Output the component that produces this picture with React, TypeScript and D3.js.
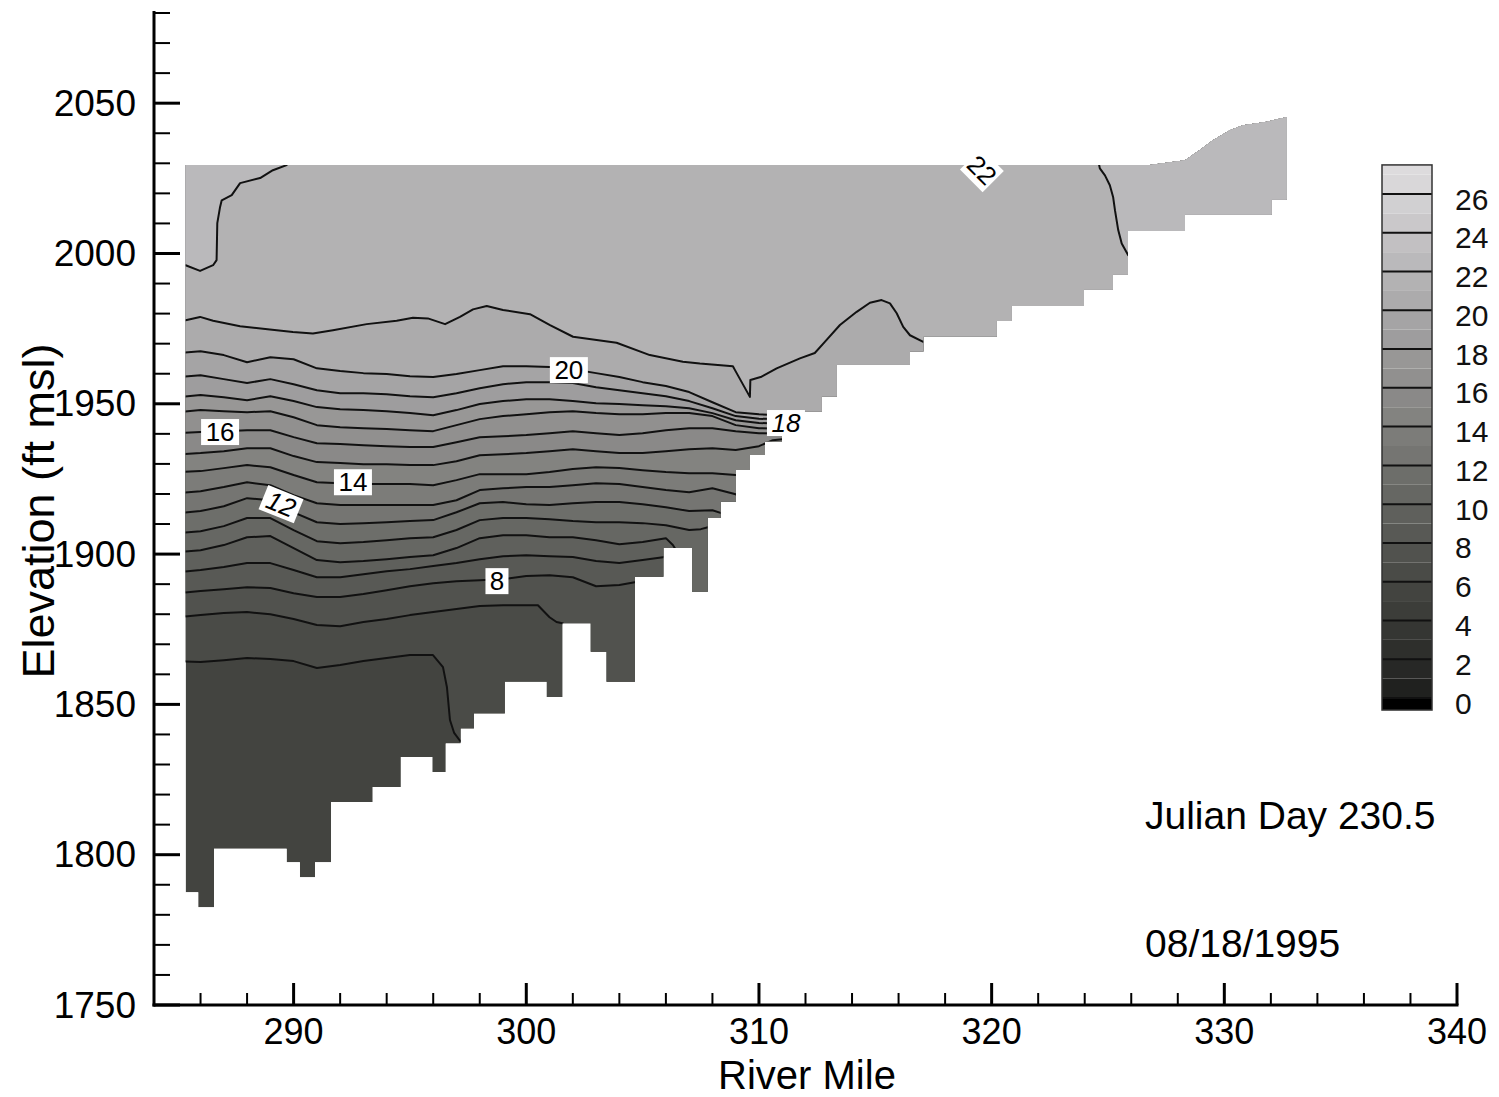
import React from 'react';
import * as d3 from 'd3';

type P = [number, number];

// ---------- axes ----------
const xDomain: P = [284, 340];
const yDomain: P = [1750, 2080];
const xMajorTicks = [290, 300, 310, 320, 330, 340];
const yMajorTicks = [1750, 1800, 1850, 1900, 1950, 2000, 2050];
const cbTicks = [0, 2, 4, 6, 8, 10, 12, 14, 16, 18, 20, 22, 24, 26];

// ---------- reservoir geometry (river mile, elevation ft msl) ----------
const surfMiles = [285.36, 326.8, 328.31, 328.95, 329.51, 330.24, 330.8, 331.83, 332.68];
const surfElev = [2029.4, 2029.4, 2031.0, 2034.4, 2037.7, 2041.0, 2042.7, 2043.8, 2045.4];
const bedMiles = [285.36, 285.9, 286.58, 289.7, 290.27, 290.92, 291.61, 293.4, 294.61, 295.96, 296.54, 297.18, 297.75, 299.08, 300.88, 301.55, 302.77, 303.45, 304.67, 305.89, 307.13, 307.79, 308.35, 309.01, 309.61, 310.26, 310.99, 312.69, 313.34, 316.49, 317.06, 320.21, 320.86, 323.97, 325.21, 325.86, 328.31, 332.03, 332.68];
const bedElev = [1787.5, 1782.5, 1802, 1797.5, 1792.5, 1797.5, 1817.5, 1822.5, 1832.5, 1827.5, 1837, 1842, 1847, 1857.5, 1852.5, 1877, 1867.5, 1857.5, 1892.5, 1902, 1887.5, 1912, 1917.5, 1928, 1933, 1937.5, 1947.5, 1952.5, 1963, 1967.5, 1972.5, 1977.5, 1982.5, 1988, 1993, 2007.5, 2013, 2018];

// ---------- isotherms (deg C) ----------
const stations = [285, 286, 287, 288, 289, 290, 291, 292, 293, 294, 295, 296, 297, 298, 299, 300, 301, 302, 303, 304, 305, 306, 307, 308, 309, 310, 311];
const iso20El = [1966.8, 1967.5, 1966.2, 1963.8, 1965.5, 1964.8, 1961.8, 1960.9, 1960.2, 1959.9, 1959.2, 1958.9, 1959.9, 1961.2, 1962.5, 1962.5, 1962.2, 1961.5, 1960.2, 1958.9, 1957.2, 1955.9, 1953.9, 1950.5, 1947.2, 1946.5, 1946.2];
const iso19El = [1958.9, 1959.5, 1958.2, 1956.9, 1958.2, 1956.5, 1954.5, 1953.5, 1953.5, 1953.2, 1952.5, 1952.2, 1953.5, 1955.2, 1956.5, 1957.2, 1957.2, 1956.9, 1955.5, 1954.5, 1953.5, 1952.5, 1950.9, 1948.5, 1945.9, 1945.0, 1944.9];
const iso18El = [1952.2, 1952.9, 1952.2, 1951.2, 1952.5, 1950.9, 1948.9, 1948.2, 1947.9, 1947.5, 1946.9, 1946.2, 1947.9, 1949.9, 1950.9, 1951.5, 1951.5, 1950.9, 1950.2, 1949.9, 1949.5, 1949.2, 1948.5, 1946.9, 1944.5, 1943.6, 1943.4];
const iso17El = [1947.2, 1947.9, 1947.5, 1947.2, 1947.5, 1945.5, 1942.9, 1942.2, 1941.9, 1941.6, 1941.2, 1940.9, 1942.9, 1944.9, 1945.9, 1946.5, 1947.2, 1947.5, 1946.9, 1946.5, 1946.5, 1946.9, 1946.9, 1945.9, 1942.9, 1941.9, 1941.7];
const iso16El = [1940.2, 1940.6, 1940.9, 1941.2, 1941.2, 1938.9, 1936.9, 1936.6, 1936.2, 1935.9, 1935.6, 1935.6, 1937.2, 1938.9, 1939.2, 1939.6, 1940.2, 1940.9, 1940.2, 1939.6, 1940.2, 1941.2, 1941.9, 1941.9, 1940.9, 1940.2, 1940.1];

const iso15Mi = [285, 286, 287, 288, 289, 290, 291, 292, 293, 294, 295, 296, 297, 298, 299, 300, 301, 302, 303, 304, 305, 306, 307, 308, 309, 310, 310.6, 311];
const iso15El = [1933.2, 1933.6, 1934.2, 1935.2, 1935.2, 1932.6, 1930.6, 1930.3, 1929.9, 1929.9, 1929.6, 1929.6, 1930.9, 1932.9, 1933.2, 1933.6, 1934.2, 1934.9, 1934.2, 1933.6, 1933.6, 1934.2, 1934.9, 1935.2, 1934.6, 1935.9, 1937.9, 1938.2];
const iso14Mi = [285, 286, 287, 288, 289, 290, 291, 292, 293, 294, 295, 296, 297, 298, 299, 300, 301, 302, 303, 304, 305, 306, 307, 308, 309, 309.05];
const iso14El = [1927.3, 1927.6, 1928.6, 1929.6, 1928.9, 1926.3, 1923.9, 1923.6, 1923.3, 1923.3, 1923.3, 1922.9, 1924.6, 1926.6, 1926.6, 1926.6, 1927.3, 1928.3, 1928.9, 1928.6, 1927.9, 1927.3, 1926.9, 1926.9, 1926.3, 1926.3];
const iso13Mi = [285, 286, 287, 288, 289, 290, 291, 292, 293, 294, 295, 296, 297, 298, 299, 300, 301, 302, 303, 304, 305, 306, 307, 308, 309, 309.05];
const iso13El = [1920.3, 1920.9, 1922.3, 1923.9, 1922.9, 1919.6, 1916.9, 1916.3, 1916.3, 1916.3, 1916.3, 1916.3, 1917.9, 1921.3, 1921.9, 1922.3, 1922.3, 1922.9, 1923.6, 1923.3, 1922.3, 1921.3, 1920.6, 1921.9, 1919.9, 1919.6];
const iso12Mi = [285, 286, 287, 288, 289, 290, 291, 292, 293, 294, 295, 296, 297, 298, 299, 300, 301, 302, 303, 304, 305, 306, 307, 308, 308.4];
const iso12El = [1913.6, 1914.3, 1915.9, 1918.6, 1917.9, 1913.9, 1910.6, 1910.0, 1910.3, 1910.6, 1911.0, 1911.3, 1913.9, 1916.9, 1917.3, 1916.6, 1916.3, 1916.9, 1917.3, 1917.3, 1916.6, 1915.6, 1914.3, 1914.6, 1913.6];
const iso11Mi = [285, 286, 287, 288, 289, 290, 291, 292, 293, 294, 295, 296, 297, 298, 299, 300, 301, 302, 303, 304, 305, 306, 307, 307.5, 307.85];
const iso11El = [1907.0, 1907.6, 1909.3, 1912.0, 1912.0, 1908.0, 1904.3, 1903.6, 1904.0, 1904.6, 1905.3, 1905.6, 1908.0, 1911.3, 1912.0, 1912.0, 1911.6, 1911.0, 1910.6, 1910.6, 1910.3, 1909.6, 1908.0, 1908.3, 1909.0];
const iso10Mi = [285, 286, 287, 288, 289, 290, 291, 292, 293, 294, 295, 296, 297, 298, 299, 300, 301, 302, 303, 304, 305, 306, 306.3, 306.4];
const iso10El = [1900.6, 1901.3, 1903.0, 1905.6, 1906.0, 1902.0, 1898.0, 1897.3, 1897.7, 1898.3, 1899.0, 1899.6, 1902.0, 1905.3, 1906.3, 1906.3, 1905.6, 1905.6, 1904.6, 1903.3, 1904.0, 1905.3, 1903.0, 1901.8];
const iso9Mi = [285, 286, 287, 288, 289, 290, 291, 292, 293, 294, 295, 296, 297, 298, 299, 300, 301, 302, 303, 304, 305, 305.95];
const iso9El = [1894.0, 1894.7, 1895.7, 1897.0, 1897.0, 1894.7, 1892.3, 1892.3, 1893.3, 1894.3, 1895.0, 1896.0, 1897.0, 1898.3, 1899.3, 1899.6, 1899.3, 1899.0, 1897.7, 1897.0, 1898.0, 1899.0];
const iso8Mi = [285, 286, 287, 288, 289, 290, 291, 292, 293, 294, 295, 296, 297, 298, 299, 300, 301, 302, 303, 304, 304.72];
const iso8El = [1887.0, 1887.7, 1888.3, 1889.0, 1888.7, 1887.0, 1885.7, 1885.7, 1886.7, 1888.0, 1889.3, 1890.3, 1891.0, 1891.3, 1891.7, 1892.7, 1893.0, 1892.3, 1889.3, 1889.7, 1890.7];
const iso7Mi = [285, 286, 287, 288, 289, 290, 291, 292, 293, 294, 295, 296, 297, 298, 299, 300, 300.5, 301, 301.3, 301.6];
const iso7El = [1879.0, 1879.7, 1880.4, 1880.7, 1880.0, 1878.4, 1876.4, 1876.0, 1877.4, 1878.4, 1879.7, 1880.7, 1881.7, 1882.7, 1883.0, 1883.0, 1883.0, 1879.0, 1877.4, 1876.9];
const iso6Mi = [285, 286, 287, 288, 289, 290, 291, 292, 293, 294, 295, 295.99, 296.42, 296.59, 296.72, 296.9, 297.2];
const iso6El = [1864.4, 1864.1, 1864.7, 1865.4, 1865.1, 1864.4, 1862.1, 1863.1, 1864.4, 1865.4, 1866.4, 1866.4, 1862.4, 1855.7, 1844.8, 1840.5, 1837.4];

const iso21Mi = [284.99, 285.36, 285.98, 286.54, 287.7, 288.98, 289.97, 290.83, 291.69, 293.14, 294.43, 295.13, 295.77, 296.51, 297.15, 297.71, 298.3, 299.0, 300.16, 301.02, 302.01, 303.88, 305.31, 306.73, 307.46, 308.88, 308.97, 309.61, 309.63, 310.11, 310.76, 311.76, 312.4, 312.83, 313.48, 314.2, 314.77, 315.27, 315.63, 315.92, 316.2, 316.49, 317.06, 317.1];
const iso21El = [1977.8, 1977.8, 1978.9, 1977.6, 1975.8, 1974.7, 1973.9, 1973.4, 1974.5, 1976.5, 1977.6, 1978.6, 1978.4, 1976.5, 1978.9, 1981.4, 1982.5, 1981.2, 1979.8, 1976.2, 1972.3, 1970.3, 1966.2, 1964.0, 1963.4, 1962.5, 1961.2, 1952.3, 1957.9, 1959.0, 1961.8, 1965.1, 1966.9, 1970.6, 1976.2, 1980.6, 1983.6, 1984.5, 1983.4, 1980.1, 1975.6, 1972.8, 1970.6, 1970.6];
const iso22aMi = [284.99, 285.36, 285.98, 286.54, 286.69, 286.72, 286.84, 286.91, 287.34, 287.7, 288.56, 289.11, 289.7, 289.75];
const iso22aEl = [1996.1, 1996.1, 1994.2, 1996.1, 1997.8, 2010.1, 2015.5, 2017.7, 2019.4, 2023.4, 2025.1, 2027.7, 2029.4, 2032.0];
const iso22bMi = [324.58, 324.65, 324.87, 325.08, 325.22, 325.3, 325.44, 325.59, 325.87, 325.9];
const iso22bEl = [2031.0, 2028.3, 2026.0, 2022.7, 2018.8, 2014.4, 2007.8, 2003.3, 1999.4, 1999.4];

// contour labels
const labelText = ['16', '14', '12', '20', '8', '18', '22'];
const labelMile = [286.84, 292.55, 289.46, 301.83, 298.74, 311.16, 319.58];
const labelElev = [1940.6, 1923.9, 1916.6, 1961.2, 1891.0, 1943.6, 2027.7];
const labelAngle = [0, 0, 22, 0, 0, 0, 45];

// ---------- style ----------
const colorStops = [0, 6, 12, 18, 22, 27];
const colorRange = ['#1d1e1c', '#464743', '#71726e', '#9b9a9a', '#b6b5b7', '#dddbdd'];
const FONT = 'Liberation Sans, Arial, Helvetica, sans-serif';

const zip = (a: number[], b: number[]): P[] => a.map((m, i) => [m, b[i]] as P);

export default function App() {
  const x = d3.scaleLinear().domain(xDomain).range([154, 1457]);
  const y = d3.scaleLinear().domain(yDomain).range([1005, 13]);
  const color = d3.scaleLinear<string>().domain(colorStops).range(colorRange).clamp(true);
  const cbY = d3.scaleLinear().domain([0, 26]).range([698, 194]);
  const line = d3.line<P>().x(d => x(d[0])).y(d => y(d[1]));

  // domain polygon
  const dom: P[] = zip(surfMiles, surfElev);
  for (let i = bedElev.length - 1; i >= 0; i--) {
    dom.push([bedMiles[i + 1], bedElev[i]]);
    dom.push([bedMiles[i], bedElev[i]]);
  }
  const domPath = line(dom) + 'Z';

  const isoLines: { level: number; pts: P[] }[] = [
    { level: 6, pts: zip(iso6Mi, iso6El) },
    { level: 7, pts: zip(iso7Mi, iso7El) },
    { level: 8, pts: zip(iso8Mi, iso8El) },
    { level: 9, pts: zip(iso9Mi, iso9El) },
    { level: 10, pts: zip(iso10Mi, iso10El) },
    { level: 11, pts: zip(iso11Mi, iso11El) },
    { level: 12, pts: zip(iso12Mi, iso12El) },
    { level: 13, pts: zip(iso13Mi, iso13El) },
    { level: 14, pts: zip(iso14Mi, iso14El) },
    { level: 15, pts: zip(iso15Mi, iso15El) },
    { level: 16, pts: zip(stations, iso16El) },
    { level: 17, pts: zip(stations, iso17El) },
    { level: 18, pts: zip(stations, iso18El) },
    { level: 19, pts: zip(stations, iso19El) },
    { level: 20, pts: zip(stations, iso20El) },
    { level: 21, pts: zip(iso21Mi, iso21El) },
  ];
  const iso22a = zip(iso22aMi, iso22aEl);
  const iso22b = zip(iso22bMi, iso22bEl);

  const regions: { level: number; poly: P[] }[] = isoLines.map(l => {
    const last = l.pts[l.pts.length - 1];
    return {
      level: l.level,
      poly: [[283, 2100], [283, l.pts[0][1]], ...l.pts, [last[0], 1700], [345, 1700], [345, 2100]] as P[],
    };
  });
  regions.push({ level: 22, poly: [[283, 2100], [283, iso22a[0][1]], ...iso22a, [iso22a[iso22a.length - 1][0], 2100]] as P[] });
  regions.push({ level: 22, poly: [[iso22b[0][0], 2100], ...iso22b, [345, iso22b[iso22b.length - 1][1]], [345, 2100]] as P[] });

  const allLines: P[][] = [...isoLines.map(l => l.pts), iso22a, iso22b];

  const yMinor = d3.range(1750, 2081, 10).filter(v => v % 50 !== 0);
  const xMinor = d3.range(286, 341, 2).filter(v => v % 10 !== 0);

  const cbBands = d3.range(0, 28);

  return (
    <svg width={1499} height={1097} style={{ position: 'absolute', left: 0, top: 0, background: '#fff' }}
      fontFamily={FONT}>
      <defs>
        <clipPath id="domClip"><path d={domPath} /></clipPath>
      </defs>
      <rect x={0} y={0} width={1499} height={1097} fill="#fff" />

      {/* filled bands */}
      <g clipPath="url(#domClip)">
        <path d={domPath} fill={color(5.5)} />
        {regions.map((r, i) => (
          <path key={i} d={line(r.poly) + 'Z'} fill={color(r.level + 0.5)} />
        ))}
        {allLines.map((pts, i) => (
          <path key={'l' + i} d={line(pts) || ''} fill="none" stroke="#111" strokeWidth={2} strokeLinejoin="round" />
        ))}
      </g>

      {/* contour labels */}
      {labelText.map((t, i) => {
        const cx = x(labelMile[i]);
        const cy = y(labelElev[i]);
        const w = t.length * 15 + 8;
        const isDiamond = labelAngle[i] === 45;
        return (
          <g key={'lab' + i} transform={`translate(${cx},${cy}) rotate(${labelAngle[i]})`}>
            <rect x={isDiamond ? -16 : -w / 2} y={isDiamond ? -15 : -13} width={isDiamond ? 32 : w} height={isDiamond ? 30 : 26} fill="#fff" />
            <text x={0} y={0} textAnchor="middle" dominantBaseline="central" fontSize={26}
              fontStyle={t === '18' || t === '12' ? 'italic' : 'normal'} fill="#000">{t}</text>
          </g>
        );
      })}

      {/* axes */}
      <line x1={154} y1={11} x2={154} y2={1006.5} stroke="#000" strokeWidth={3} />
      <line x1={152.5} y1={1005} x2={1458.5} y2={1005} stroke="#000" strokeWidth={3} />
      {yMajorTicks.map(v => (
        <g key={'ym' + v}>
          <line x1={154} x2={180} y1={y(v)} y2={y(v)} stroke="#000" strokeWidth={3} />
          <text x={136} y={y(v)} textAnchor="end" dominantBaseline="central" fontSize={37} fill="#000">{v}</text>
        </g>
      ))}
      {yMinor.map(v => (
        <line key={'yn' + v} x1={154} x2={170} y1={y(v)} y2={y(v)} stroke="#000" strokeWidth={2} />
      ))}
      {xMajorTicks.map(v => (
        <g key={'xm' + v}>
          <line x1={x(v)} x2={x(v)} y1={1005} y2={983} stroke="#000" strokeWidth={3} />
          <text x={x(v)} y={1031} textAnchor="middle" dominantBaseline="central" fontSize={36} fill="#000">{v}</text>
        </g>
      ))}
      {xMinor.map(v => (
        <line key={'xn' + v} x1={x(v)} x2={x(v)} y1={1005} y2={993} stroke="#000" strokeWidth={2} />
      ))}
      <text x={807} y={1089} textAnchor="middle" fontSize={40} fill="#000">River Mile</text>
      <text transform="translate(38,511) rotate(-90)" textAnchor="middle" dominantBaseline="central" fontSize={45} fill="#000">Elevation (ft msl)</text>

      {/* colorbar */}
      <g>
        {cbBands.map(k => {
          const top = Math.min(k + 1, 27.5);
          return <rect key={'cb' + k} x={1382} y={cbY(top)} width={50} height={cbY(k) - cbY(top)} fill={color(k + 0.5)} />;
        })}
        <rect x={1382} y={cbY(0)} width={50} height={cbY(-0.62) - cbY(0)} fill="#000" />
        {cbTicks.map(v => (
          <g key={'cbt' + v}>
            <line x1={1382} x2={1432} y1={cbY(v)} y2={cbY(v)} stroke="#111" strokeWidth={2} />
            <text x={1455} y={cbY(v) + 5} dominantBaseline="central" fontSize={30} fill="#111">{v}</text>
          </g>
        ))}
        <rect x={1382} y={cbY(27.5)} width={50} height={cbY(-0.62) - cbY(27.5)} fill="none" stroke="#333" strokeWidth={1.5} />
      </g>

      <text x={1145} y={815} dominantBaseline="central" fontSize={39} fill="#000">Julian Day 230.5</text>
      <text x={1145} y={943} dominantBaseline="central" fontSize={39} fill="#000">08/18/1995</text>
    </svg>
  );
}
